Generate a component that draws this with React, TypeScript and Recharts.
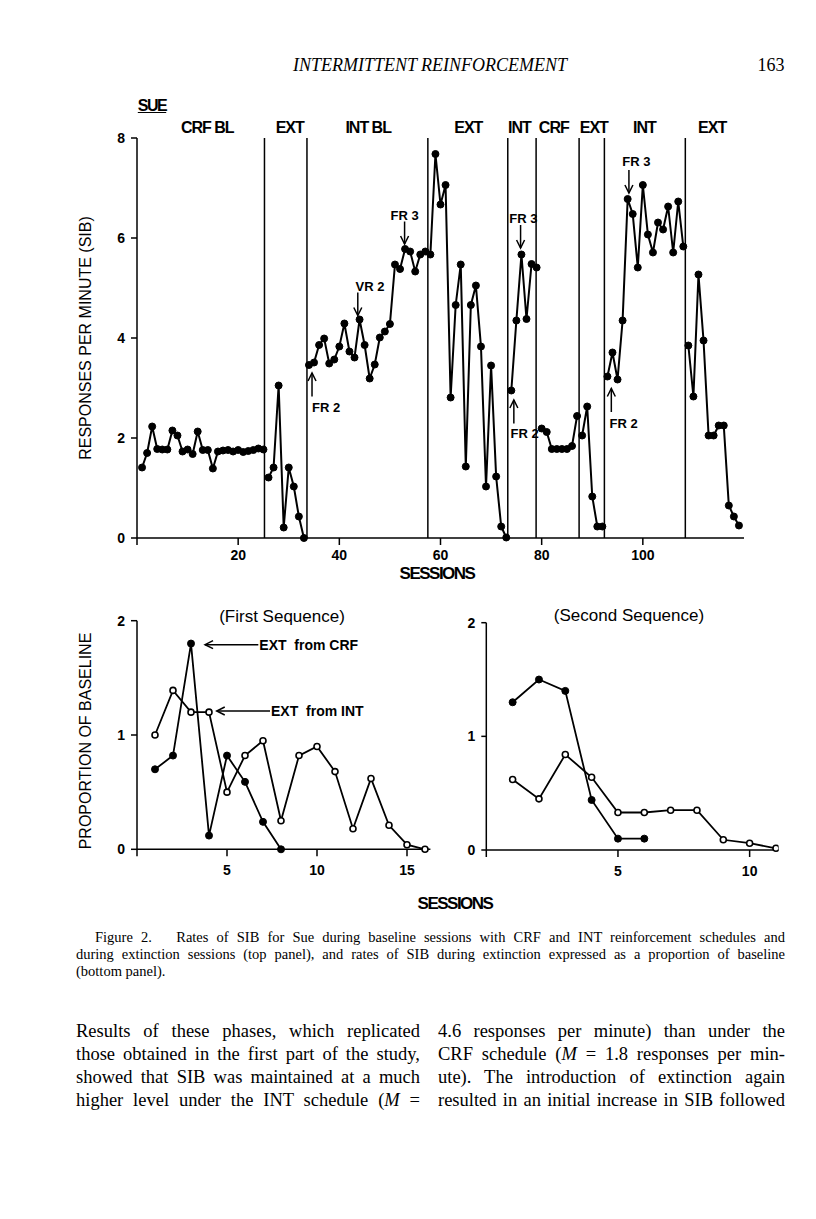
import React from 'react';
import { LineChart, Line, XAxis, YAxis, ReferenceLine, ReferenceDot } from 'recharts';

// ---------- Top panel data (responses per minute, by phase) ----------
const crfBaseline1 = [1.41, 1.70, 2.23, 1.78, 1.77, 1.77, 2.15, 2.05, 1.73, 1.77, 1.68, 2.13, 1.76, 1.76, 1.39, 1.73, 1.75, 1.76, 1.73, 1.76, 1.72, 1.74, 1.76, 1.79, 1.77];
const ext1 = [1.21, 1.41, 3.05, 0.21, 1.41, 1.03, 0.43, 0.0];
const intBaseline1 = [3.46, 3.51, 3.86, 3.99, 3.49, 3.57, 3.83, 4.29, 3.73, 3.61, 4.37, 3.86, 3.19, 3.47, 4.01, 4.13, 4.28, 5.47, 5.38, 5.78, 5.73, 5.33, 5.67, 5.73];
const ext2 = [5.67, 7.68, 6.67, 7.06, 2.81, 4.66, 5.47, 1.43, 4.66, 5.05, 3.83, 1.03, 3.45, 1.23, 0.23, 0.01];
const int2 = [2.95, 4.35, 5.67, 4.38, 5.48, 5.41];
const crf2 = [2.19, 2.12, 1.78, 1.78, 1.78, 1.78, 1.84, 2.44];
const ext3 = [2.05, 2.63, 0.83, 0.23, 0.23];
const int3 = [3.23, 3.71, 3.17, 4.35, 6.78, 6.48, 5.41, 7.06, 6.07, 5.71, 6.31, 6.17, 6.63, 5.71, 6.73, 5.83];
const ext4 = [3.85, 2.83, 5.27, 3.95, 2.05, 2.05, 2.25, 2.25, 0.65, 0.43, 0.25];

const phases = [crfBaseline1, ext1, intBaseline1, ext2, int2, crf2, ext3, int3, ext4];
const phaseLines = [25.2, 33.6, 57.5, 73.3, 78.9, 87.4, 92.4, 108.4];
const phaseLabels = ['CRF BL', 'EXT', 'INT BL', 'EXT', 'INT', 'CRF', 'EXT', 'INT', 'EXT'];
const phaseLabelX = [13.9, 30.2, 45.7, 65.5, 75.6, 82.4, 90.3, 100.3, 113.7];
const topXTicks = [0, 20, 40, 60, 80, 100];
const topYTicks = [0, 2, 4, 6, 8];

// ---------- Bottom panels (proportion of baseline) ----------
const firstExtFromCrf = [0.70, 0.82, 1.80, 0.12, 0.82, 0.59, 0.24, 0.0];
const firstExtFromInt = [1.00, 1.39, 1.20, 1.20, 0.50, 0.82, 0.95, 0.25, 0.82, 0.90, 0.68, 0.18, 0.62, 0.21, 0.04, 0.0];
const secondExtFromCrf = [1.30, 1.50, 1.40, 0.44, 0.10, 0.10];
const secondExtFromInt = [0.62, 0.45, 0.84, 0.64, 0.33, 0.33, 0.35, 0.35, 0.09, 0.06, 0.015];
const bottomYTicks = [0, 1, 2];
const firstXTicks = [0, 5, 10, 15];
const secondXTicks = [0, 5, 10];

type Arrow = { label: string; x1: number; y1: number; x2: number; y2: number; anchor: 'start' | 'middle' | 'end'; dx: number; dy: number };

const topArrows: Arrow[] = [
  { label: 'FR 2', x1: 34.6, y1: 2.83, x2: 34.6, y2: 3.30, anchor: 'start', dx: 0, dy: 15.5 },
  { label: 'VR 2', x1: 43.65, y1: 4.91, x2: 43.65, y2: 4.45, anchor: 'start', dx: -2.3, dy: -2 },
  { label: 'FR 3', x1: 52.9, y1: 6.33, x2: 52.9, y2: 5.88, anchor: 'middle', dx: 0, dy: -1.5 },
  { label: 'FR 3', x1: 75.83, y1: 6.26, x2: 75.83, y2: 5.80, anchor: 'middle', dx: 2.8, dy: -2.3 },
  { label: 'FR 2', x1: 74.5, y1: 2.29, x2: 74.5, y2: 2.76, anchor: 'start', dx: -3.3, dy: 14.7 },
  { label: 'FR 2', x1: 93.77, y1: 2.52, x2: 93.77, y2: 2.99, anchor: 'start', dx: -1.7, dy: 16.3 },
  { label: 'FR 3', x1: 97.25, y1: 7.36, x2: 97.25, y2: 6.90, anchor: 'middle', dx: 7.4, dy: -4.3 },
];

const bottomArrows: Arrow[] = [
  { label: 'EXT\u00A0 from CRF', x1: 6.74, y1: 1.79, x2: 3.78, y2: 1.79, anchor: 'start', dx: 1, dy: 5 },
  { label: 'EXT\u00A0 from INT', x1: 7.39, y1: 1.21, x2: 4.43, y2: 1.21, anchor: 'start', dx: 1, dy: 5 },
];

const SANS = '"Liberation Sans", Arial, Helvetica, sans-serif';
const SERIF = '"Liberation Serif", "Times New Roman", serif';

function buildTopData() {
  const rows: any[] = [];
  let s = 1;
  phases.forEach((vals, pi) => {
    vals.forEach((v) => {
      const row: any = { session: s };
      row['p' + pi] = v;
      rows.push(row);
      s += 1;
    });
  });
  return rows;
}
const topData = buildTopData();
const firstData = firstExtFromInt.map((v, i) => ({ session: i + 1, open: v, filled: firstExtFromCrf[i] }));
const secondData = secondExtFromInt.map((v, i) => ({ session: i + 1, open: v, filled: secondExtFromCrf[i] }));

function arrowShape(a: Arrow, fontSize: number) {
  return (props: any) => {
    const { x1, y1, x2, y2 } = props;
    const ang = Math.atan2(y2 - y1, x2 - x1);
    const L = 8;
    const W = 4;
    const bx = x2 - L * Math.cos(ang);
    const by = y2 - L * Math.sin(ang);
    const px = -Math.sin(ang) * W;
    const py = Math.cos(ang) * W;
    return (
      <g>
        <line x1={x1} y1={y1} x2={x2} y2={y2} stroke="#000" strokeWidth={1.5} />
        <polyline points={`${bx + px},${by + py} ${x2},${y2} ${bx - px},${by - py}`} fill="none" stroke="#000" strokeWidth={1.5} />
        <text x={x1 + a.dx} y={y1 + a.dy} textAnchor={a.anchor} fontSize={fontSize} fontFamily={SANS} fontWeight={600} fill="#000">
          {a.label}
        </text>
      </g>
    );
  };
}

const phaseLabelShape = (label: string) => (props: any) => (
  <text x={props.cx} y={props.cy - 5} textAnchor="middle" fontSize={16} fontFamily={SANS} fontWeight={600} letterSpacing={-1} fill="#000">
    {label}
  </text>
);

const tickStyle = { fontSize: 14, fontFamily: SANS, fontWeight: 600, fill: '#000' };

const filledDot = (r: number) => ({ r, fill: '#000', stroke: '#000', strokeWidth: 1 });
const openDot = { r: 3, fill: '#fff', stroke: '#000', strokeWidth: 1.6 };

function Txt(props: { x: number; y: number; size: number; children: any; anchor?: 'left' | 'center' | 'right'; style?: any; rotate?: boolean }) {
  const { x, y, size, children, anchor = 'center', style = {}, rotate } = props;
  const tx = anchor === 'center' ? '-50%' : anchor === 'right' ? '-100%' : '0';
  return (
    <div
      style={{
        position: 'absolute',
        left: x,
        top: y,
        transform: `translate(${tx}, -50%)${rotate ? ' rotate(-90deg)' : ''}`,
        transformOrigin: rotate ? '50% 50%' : undefined,
        fontSize: size,
        lineHeight: 1,
        whiteSpace: 'nowrap',
        fontFamily: SANS,
        color: '#000',
        ...style,
      }}
    >
      {children}
    </div>
  );
}

function JLine(props: { x: number; y: number; w: number; size: number; text: any; last?: boolean }) {
  const { x, y, w, size, text, last } = props;
  return (
    <div
      style={{
        position: 'absolute',
        left: x,
        top: y - size * 0.6,
        width: w,
        fontSize: size,
        lineHeight: `${size * 1.2}px`,
        height: size * 1.2,
        fontFamily: SERIF,
        color: '#000',
        textAlign: last ? 'left' : 'justify',
        textAlignLast: last ? 'left' : 'justify',
        overflow: 'visible',
      }}
    >
      {text}
    </div>
  );
}

export default function App() {
  return (
    <div style={{ position: 'absolute', left: 0, top: 0, width: 816, height: 1219, background: '#fff', overflow: 'hidden' }}>
      {/* running header */}
      <Txt x={430} y={65} size={18} style={{ fontFamily: SERIF, fontStyle: 'italic' }}>INTERMITTENT REINFORCEMENT</Txt>
      <Txt x={771} y={65} size={18} style={{ fontFamily: SERIF }}>163</Txt>

      {/* top panel */}
      <div style={{ position: 'absolute', left: 0, top: 0 }}>
        <LineChart width={816} height={600} data={topData} margin={{ top: 138, right: 72, bottom: 32, left: 97 }}>
          <XAxis
            dataKey="session"
            type="number"
            domain={[0, 120]}
            ticks={topXTicks}
            tickFormatter={(v: number) => (v === 0 ? '' : String(v))}
            height={30}
            tickSize={7}
            tickMargin={5}
            axisLine={{ stroke: '#000', strokeWidth: 1.5 }}
            tickLine={{ stroke: '#000', strokeWidth: 1.5 }}
            tick={tickStyle}
            allowDataOverflow
          />
          <YAxis
            type="number"
            domain={[0, 8]}
            ticks={topYTicks}
            width={40}
            tickSize={6}
            tickMargin={6}
            axisLine={{ stroke: '#000', strokeWidth: 1.5 }}
            tickLine={{ stroke: '#000', strokeWidth: 1.5 }}
            tick={tickStyle}
          />
          {phaseLines.map((x, i) => (
            <ReferenceLine key={'pl' + i} x={x} stroke="#000" strokeWidth={1.5} />
          ))}
          {phaseLabels.map((lab, i) => (
            <ReferenceDot key={'lab' + i} x={phaseLabelX[i]} y={8} r={0} ifOverflow="visible" shape={phaseLabelShape(lab)} />
          ))}
          {phases.map((_, i) => (
            <Line
              key={'ph' + i}
              dataKey={'p' + i}
              stroke="#000"
              strokeWidth={2}
              dot={filledDot(3.5)}
              activeDot={false}
              isAnimationActive={false}
              connectNulls={false}
            />
          ))}
          {topArrows.map((a, i) => (
            <ReferenceLine
              key={'ta' + i}
              segment={[{ x: a.x1, y: a.y1 }, { x: a.x2, y: a.y2 }]}
              ifOverflow="visible"
              shape={arrowShape(a, 13)}
            />
          ))}
        </LineChart>
      </div>

      <Txt x={152} y={106} size={16} style={{ fontWeight: 700, letterSpacing: -1.5, textDecoration: 'underline' }}>SUE</Txt>
      <Txt x={86} y={338} size={16} rotate>RESPONSES PER MINUTE (SIB)</Txt>
      <Txt x={437} y={573} size={17} style={{ fontWeight: 700, letterSpacing: -1.5 }}>SESSIONS</Txt>

      {/* bottom-left panel */}
      <div style={{ position: 'absolute', left: 0, top: 560 }}>
        <LineChart width={450} height={340} data={firstData} margin={{ top: 60.7, right: 19.6, bottom: 20.7, left: 97 }}>
          <XAxis
            dataKey="session"
            type="number"
            domain={[0, 16.3]}
            ticks={firstXTicks}
            tickFormatter={(v: number) => (v === 0 ? '' : String(v))}
            height={30}
            tickSize={7}
            tickMargin={9}
            axisLine={{ stroke: '#000', strokeWidth: 1.5 }}
            tickLine={{ stroke: '#000', strokeWidth: 1.5 }}
            tick={tickStyle}
            allowDataOverflow
          />
          <YAxis
            type="number"
            domain={[0, 2]}
            ticks={bottomYTicks}
            width={40}
            tickSize={6}
            tickMargin={6}
            axisLine={{ stroke: '#000', strokeWidth: 1.5 }}
            tickLine={{ stroke: '#000', strokeWidth: 1.5 }}
            tick={tickStyle}
          />
          <Line dataKey="open" stroke="#000" strokeWidth={1.8} dot={openDot} activeDot={false} isAnimationActive={false} />
          <Line dataKey="filled" stroke="#000" strokeWidth={1.8} dot={filledDot(3.5)} activeDot={false} isAnimationActive={false} />
          {bottomArrows.map((a, i) => (
            <ReferenceLine
              key={'ba' + i}
              segment={[{ x: a.x1, y: a.y1 }, { x: a.x2, y: a.y2 }]}
              ifOverflow="visible"
              shape={arrowShape(a, 14)}
            />
          ))}
        </LineChart>
      </div>

      {/* bottom-right panel */}
      <div style={{ position: 'absolute', left: 450, top: 560 }}>
        <LineChart width={366} height={340} data={secondData} margin={{ top: 62.7, right: 37.4, bottom: 20, left: 6.3 }}>
          <XAxis
            dataKey="session"
            type="number"
            domain={[0, 11.1]}
            ticks={secondXTicks}
            tickFormatter={(v: number) => (v === 0 ? '' : String(v))}
            height={30}
            tickSize={7}
            tickMargin={9}
            axisLine={{ stroke: '#000', strokeWidth: 1.5 }}
            tickLine={{ stroke: '#000', strokeWidth: 1.5 }}
            tick={tickStyle}
            allowDataOverflow
          />
          <YAxis
            type="number"
            domain={[0, 2]}
            ticks={bottomYTicks}
            width={30}
            tickSize={5}
            tickMargin={6}
            axisLine={{ stroke: '#000', strokeWidth: 1.5 }}
            tickLine={{ stroke: '#000', strokeWidth: 1.5 }}
            tick={tickStyle}
          />
          <Line dataKey="filled" stroke="#000" strokeWidth={1.8} dot={filledDot(3.5)} activeDot={false} isAnimationActive={false} />
          <Line dataKey="open" stroke="#000" strokeWidth={1.8} dot={openDot} activeDot={false} isAnimationActive={false} />
        </LineChart>
      </div>

      <Txt x={282} y={616} size={17}>(First Sequence)</Txt>
      <Txt x={629} y={615} size={17}>(Second Sequence)</Txt>
      <Txt x={86} y={741} size={16} rotate>PROPORTION OF BASELINE</Txt>
      <Txt x={455} y={903} size={17} style={{ fontWeight: 700, letterSpacing: -1.5 }}>SESSIONS</Txt>

      {/* caption */}
      <JLine x={95} y={938} w={690} size={14.5} text={<span>Figure 2.&nbsp;&nbsp; Rates of SIB for Sue during baseline sessions with CRF and INT reinforcement schedules and</span>} />
      <JLine x={76} y={955} w={709} size={14.5} text="during extinction sessions (top panel), and rates of SIB during extinction expressed as a proportion of baseline" />
      <JLine x={76} y={972} w={709} size={14.5} text="(bottom panel)." last />

      {/* body text */}
      <JLine x={76} y={1031} w={344} size={18.5} text="Results of these phases, which replicated" />
      <JLine x={76} y={1054} w={344} size={18.5} text="those obtained in the first part of the study," />
      <JLine x={76} y={1077} w={344} size={18.5} text="showed that SIB was maintained at a much" />
      <JLine x={76} y={1100} w={344} size={18.5} text={<span>higher level under the INT schedule (<i>M</i> =</span>} />
      <JLine x={438} y={1031} w={347} size={18.5} text="4.6 responses per minute) than under the" />
      <JLine x={438} y={1054} w={347} size={18.5} text={<span>CRF schedule (<i>M</i> = 1.8 responses per min-</span>} />
      <JLine x={438} y={1077} w={347} size={18.5} text="ute). The introduction of extinction again" />
      <JLine x={438} y={1100} w={347} size={18.5} text="resulted in an initial increase in SIB followed" />
    </div>
  );
}
